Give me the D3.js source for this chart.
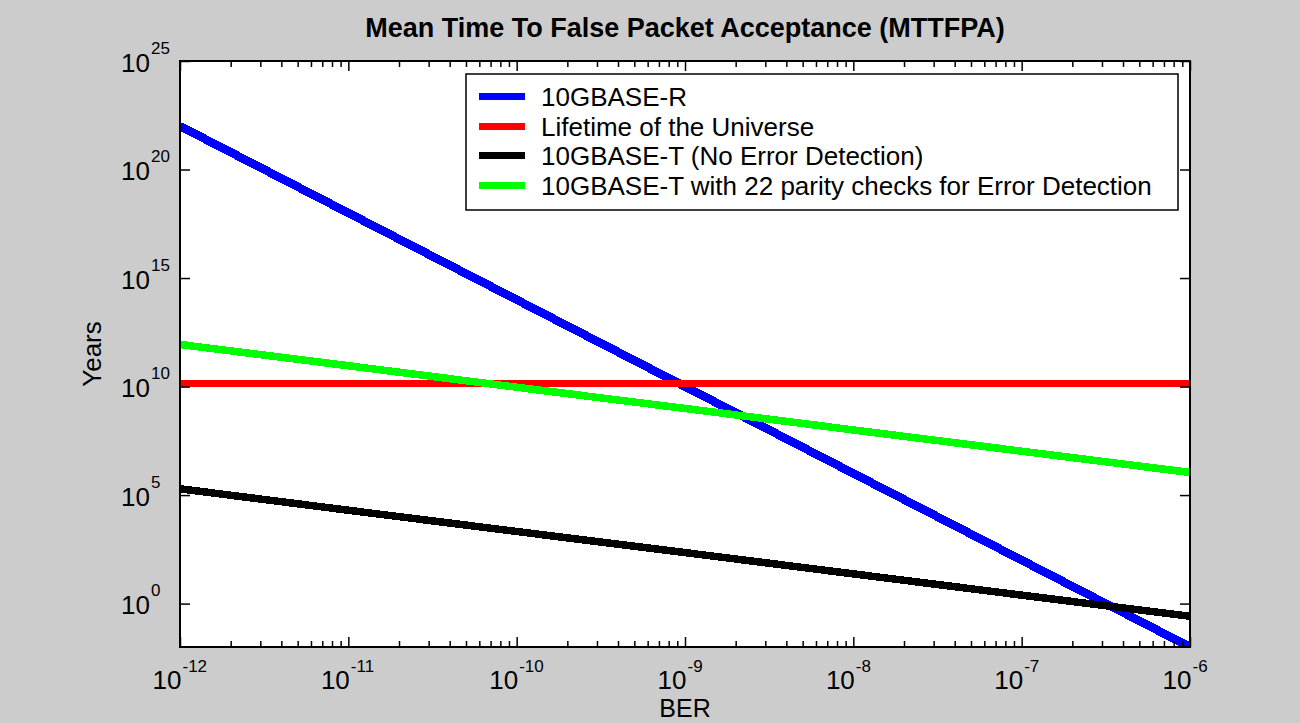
<!DOCTYPE html>
<html>
<head>
<meta charset="utf-8">
<script src="https://cdn.jsdelivr.net/npm/d3@7"></script>
<style>
  html, body { margin: 0; padding: 0; background: #cccccc; }
  svg { display: block; }
  text { font-family: "Liberation Sans", Arial, sans-serif; fill: #000; }
</style>
</head>
<body>
<svg id="chart" width="1300" height="723"></svg>
<script>
// Bit error rate sample points (one per decade)
const ber = [1e-12, 1e-11, 1e-10, 1e-9, 1e-8, 1e-7, 1e-6];

// Mean time to false packet acceptance, in years
const mttfpa10GBaseR      = [1e22, 1e18, 1e14, 1e10, 1e6, 1e2, 1e-2];
const lifetimeOfUniverse  = [1.37e10, 1.37e10, 1.37e10, 1.37e10, 1.37e10, 1.37e10, 1.37e10];
const mttfpa10GBaseT      = [1.95e5, 2.0e4, 2.1e3, 224, 23.4, 2.45, 0.26];
const mttfpa10GBaseTParity = [8.7e11, 9.1e10, 9.3e9, 9.8e8, 1.0e8, 1.05e7, 1.1e6];

const seriesNames = [
  "10GBASE-R",
  "Lifetime of the Universe",
  "10GBASE-T (No Error Detection)",
  "10GBASE-T with 22 parity checks for Error Detection"
];
const seriesColors = ["#0000ff", "#ff0000", "#000000", "#00ff00"];
const seriesValues = [mttfpa10GBaseR, lifetimeOfUniverse, mttfpa10GBaseT, mttfpa10GBaseTParity];

// Axis tick positions
const xMajorTicks = [1e-12, 1e-11, 1e-10, 1e-9, 1e-8, 1e-7, 1e-6];
const xTickExponents = ["-12", "-11", "-10", "-9", "-8", "-7", "-6"];
const yMajorTicks = [1e0, 1e5, 1e10, 1e15, 1e20, 1e25];
const yTickExponents = ["0", "5", "10", "15", "20", "25"];

const titleText = "Mean Time To False Packet Acceptance (MTTFPA)";
const xLabelText = "BER";
const yLabelText = "Years";

// ---- layout ----
const plot = { left: 180, top: 61, right: 1190, bottom: 647 };
const svg = d3.select("#chart");

const x = d3.scaleLog().domain([1e-12, 1e-6]).range([plot.left, plot.right]);
const y = d3.scaleLog().domain([1e-2, 1e25]).range([plot.bottom, plot.top]);

// plot background
svg.append("rect")
  .attr("x", plot.left).attr("y", plot.top)
  .attr("width", plot.right - plot.left).attr("height", plot.bottom - plot.top)
  .attr("fill", "#ffffff");

// clip region for the data lines
svg.append("defs").append("clipPath").attr("id", "plotClip")
  .append("rect")
  .attr("x", plot.left).attr("y", plot.top)
  .attr("width", plot.right - plot.left).attr("height", plot.bottom - plot.top);

// ---- data lines ----
const line = d3.line()
  .x(d => x(d[0]))
  .y(d => y(d[1]));

const lines = svg.append("g").attr("clip-path", "url(#plotClip)");
seriesValues.forEach((vals, i) => {
  lines.append("path")
    .datum(ber.map((b, k) => [b, vals[k]]))
    .attr("d", line)
    .attr("fill", "none")
    .attr("stroke", seriesColors[i])
    .attr("stroke-width", i === 0 ? 8.5 : 7.5)
    .attr("shape-rendering", "crispEdges");
});

// ---- axes (ticks pointing inward on all four sides) ----
const xMinorTicks = x.ticks().filter(t => !xMajorTicks.some(m => Math.abs(m - t) / m < 1e-9));

function styleAxis(g) {
  g.select(".domain").remove();
  g.selectAll(".tick line").attr("stroke", "#000").attr("stroke-width", 1.5);
}

// bottom
svg.append("g").attr("transform", `translate(0,${plot.bottom})`)
  .call(d3.axisBottom(x).tickValues(xMinorTicks).tickSize(-6).tickFormat(""))
  .call(styleAxis);
const xBottom = svg.append("g").attr("transform", `translate(0,${plot.bottom})`)
  .call(d3.axisBottom(x).tickValues(xMajorTicks).tickSize(-10).tickFormat(""))
  .call(styleAxis);
// top
svg.append("g").attr("transform", `translate(0,${plot.top})`)
  .call(d3.axisTop(x).tickValues(xMinorTicks).tickSize(-6).tickFormat(""))
  .call(styleAxis);
svg.append("g").attr("transform", `translate(0,${plot.top})`)
  .call(d3.axisTop(x).tickValues(xMajorTicks).tickSize(-10).tickFormat(""))
  .call(styleAxis);
// left
const yLeft = svg.append("g").attr("transform", `translate(${plot.left},0)`)
  .call(d3.axisLeft(y).tickValues(yMajorTicks).tickSize(-10).tickFormat(""))
  .call(styleAxis);
// right
svg.append("g").attr("transform", `translate(${plot.right},0)`)
  .call(d3.axisRight(y).tickValues(yMajorTicks).tickSize(-10).tickFormat(""))
  .call(styleAxis);

// power-of-ten tick labels
xBottom.selectAll(".tick").each(function (d, i) {
  const t = d3.select(this);
  t.selectAll("text").remove();
  t.append("text").attr("x", 1).attr("y", 42)
    .attr("text-anchor", "end").attr("font-size", 26).text("10");
  t.append("text").attr("x", 2).attr("y", 25)
    .attr("text-anchor", "start").attr("font-size", 17).text(xTickExponents[i]);
});
yLeft.selectAll(".tick").each(function (d, i) {
  const t = d3.select(this);
  t.selectAll("text").remove();
  t.append("text").attr("x", -30).attr("y", 10)
    .attr("text-anchor", "end").attr("font-size", 26).text("10");
  t.append("text").attr("x", -29).attr("y", -8)
    .attr("text-anchor", "start").attr("font-size", 17).text(yTickExponents[i]);
});

// plot frame
svg.append("rect")
  .attr("x", plot.left).attr("y", plot.top)
  .attr("width", plot.right - plot.left).attr("height", plot.bottom - plot.top)
  .attr("fill", "none").attr("stroke", "#000").attr("stroke-width", 2);

// ---- legend ----
const legend = svg.append("g");
legend.append("rect")
  .attr("x", 466).attr("y", 74).attr("width", 712).attr("height", 136)
  .attr("fill", "#ffffff").attr("stroke", "#000").attr("stroke-width", 1.5);
seriesNames.forEach((name, i) => {
  const cy = 96.5 + i * 29.5;
  legend.append("line")
    .attr("x1", 479).attr("x2", 525).attr("y1", cy).attr("y2", cy)
    .attr("stroke", seriesColors[i]).attr("stroke-width", 7)
    .attr("shape-rendering", "crispEdges");
  legend.append("text")
    .attr("x", 541).attr("y", cy + 9.5)
    .attr("font-size", 26).text(name);
});

// ---- titles ----
svg.append("text")
  .attr("x", (plot.left + plot.right) / 2).attr("y", 37)
  .attr("text-anchor", "middle").attr("font-size", 27).attr("font-weight", "bold")
  .text(titleText);

svg.append("text")
  .attr("x", (plot.left + plot.right) / 2).attr("y", 717)
  .attr("text-anchor", "middle").attr("font-size", 25)
  .text(xLabelText);

svg.append("text")
  .attr("transform", `translate(101,${(plot.top + plot.bottom) / 2}) rotate(-90)`)
  .attr("text-anchor", "middle").attr("font-size", 26)
  .text(yLabelText);
</script>
</body>
</html>
